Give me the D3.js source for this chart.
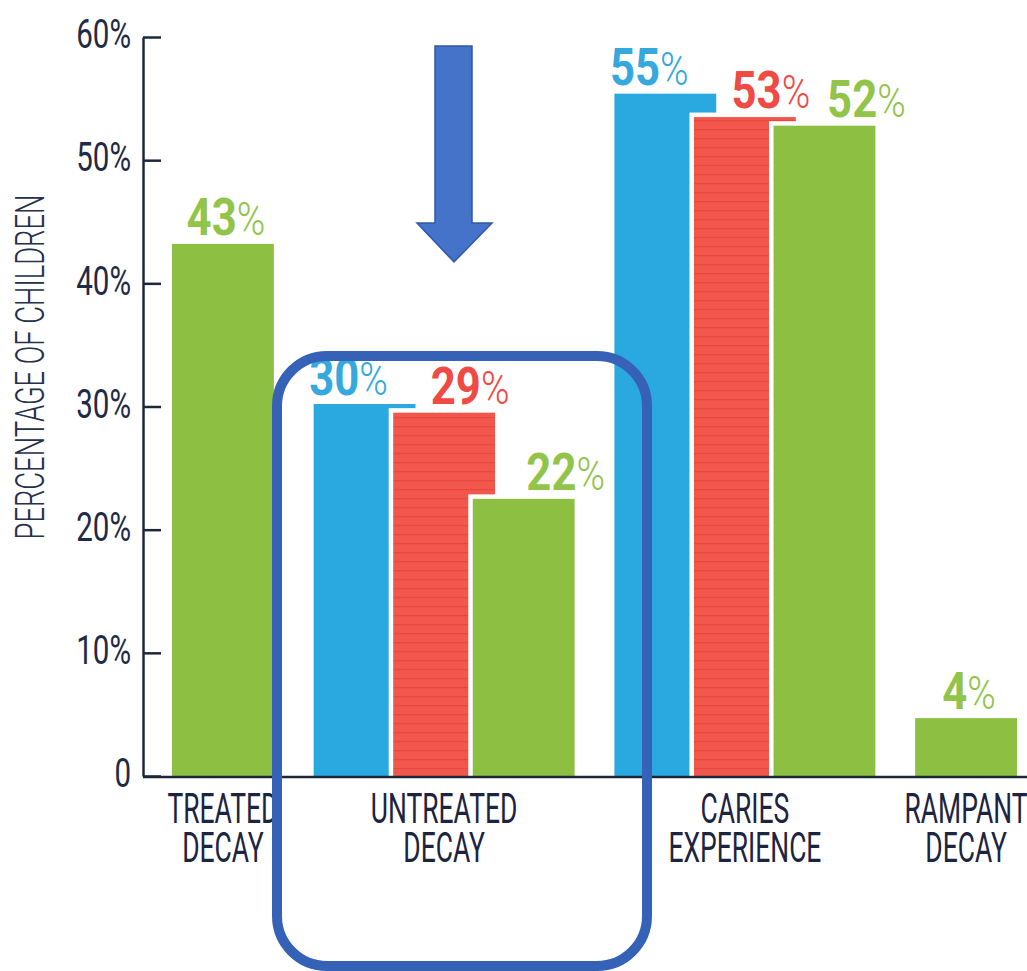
<!DOCTYPE html>
<html>
<head>
<meta charset="utf-8">
<script src="https://cdn.jsdelivr.net/npm/d3@7"></script>
<style>
  html, body { margin: 0; padding: 0; background: #fff; }
  svg { display: block; font-family: Roboto, "Open Sans", sans-serif; }
</style>
</head>
<body>
<div id="chart"></div>
<script>
// values
const categories = [['TREATED', 'DECAY'], ['UNTREATED', 'DECAY'], ['CARIES', 'EXPERIENCE'], ['RAMPANT', 'DECAY']];
const blueValues = [null, 30.2, 55.4, null];
const redValues = [null, 29.5, 53.5, null];
const greenValues = [43.2, 22.5, 52.8, 4.7];
const blueLabels = [null, '30', '55', null];
const redLabels = [null, '29', '53', null];
const greenLabels = ['43', '22', '52', '4'];
const yTicks = [0, 10, 20, 30, 40, 50, 60];
const yTitle = 'PERCENTAGE OF CHILDREN';

const series = [
  { key: 'blue', values: blueValues, labels: blueLabels, fill: '#2aa8e0', text: '#35a9de', shift: -16 },
  { key: 'red', values: redValues, labels: redLabels, fill: 'url(#redStreak)', text: '#ef4a44', shift: 26 },
  { key: 'green', values: greenValues, labels: greenLabels, fill: '#8cbf42', text: '#93c44a', shift: 42 }
];

const width = 1027, height = 971;
const svg = d3.select('#chart').append('svg')
  .attr('width', width)
  .attr('height', height);

// streaky red fill like the printed original
const pat = svg.append('defs').append('pattern')
  .attr('id', 'redStreak')
  .attr('patternUnits', 'userSpaceOnUse')
  .attr('width', 12).attr('height', 9);
pat.append('rect').attr('width', 12).attr('height', 9).attr('fill', '#f2574b');
pat.append('rect').attr('y', 3).attr('width', 12).attr('height', 1.3).attr('fill', '#e23a37').attr('opacity', 0.55);

// lay bars out in slots, with a gap between groups
const gapUnits = 0.78, barUnits = 1.28;
const bars = [], groups = [];
let u = 0;
categories.forEach((cat, i) => {
  const present = series.filter(s => s.values[i] != null);
  const start = u;
  present.forEach(s => {
    bars.push({ i, s, value: s.values[i], label: s.labels[i], u, single: present.length === 1 });
    u += 1;
  });
  const end = u - 1 + barUnits;
  groups.push({ lines: cat, center: (start + end) / 2, end });
  u += gapUnits;
});
const lastEnd = groups[groups.length - 1].end;

const x = d3.scaleLinear().domain([0, lastEnd]).range([172, 1017]);
const y = d3.scaleLinear().domain([0, 60]).range([776, 37]);
const bw = x(barUnits) - x(0);

// bars (white halo so each overlapping bar is cut out from the one behind)
svg.append('g').selectAll('rect')
  .data(bars)
  .enter().append('rect')
  .attr('x', d => x(d.u))
  .attr('y', d => y(d.value))
  .attr('width', bw)
  .attr('height', d => y(0) - y(d.value))
  .attr('fill', d => d.s.fill)
  .attr('stroke', '#fff')
  .attr('stroke-width', 9)
  .attr('paint-order', 'stroke');

// value labels
const vl = svg.append('g').selectAll('g')
  .data(bars)
  .enter().append('g')
  .attr('transform', d => `translate(${x(d.u) + bw / 2 + (d.single ? 3 : d.s.shift)},${y(d.value) - 9})`);
const vt = vl.append('text')
  .attr('text-anchor', 'middle')
  .attr('transform', 'scale(0.84,1)')
  .attr('fill', d => d.s.text);
vt.append('tspan')
  .attr('font-size', 52)
  .attr('font-weight', 700)
  .text(d => d.label);
vt.append('tspan')
  .attr('font-size', 46)
  .attr('font-weight', 300)
  .text('%');

// y axis, ticks pointing into the plot
const yAxis = svg.append('g')
  .attr('transform', 'translate(143,0)')
  .call(d3.axisLeft(y).tickValues(yTicks).tickSize(-18).tickSizeOuter(0).tickPadding(12)
    .tickFormat(d => d === 0 ? '0' : d + '%'));
yAxis.select('.domain').attr('stroke', '#1c2838').attr('stroke-width', 2.5);
yAxis.selectAll('.tick line').attr('stroke', '#1c2838').attr('stroke-width', 2.5);
yAxis.selectAll('.tick text')
  .attr('x', null)
  .attr('dy', null)
  .attr('dominant-baseline', 'central')
  .attr('transform', 'translate(-12,-3) scale(0.72,1)')
  .attr('font-size', 41)
  .attr('font-family', 'Roboto, sans-serif')
  .attr('fill', '#1f2a44');

// baseline runs to the right edge
svg.append('line')
  .attr('x1', 143).attr('x2', width)
  .attr('y1', y(0) + 1).attr('y2', y(0) + 1)
  .attr('stroke', '#1c2838')
  .attr('stroke-width', 2.5);

// y title, squeezed to its printed length
const yt = svg.append('text')
  .attr('text-anchor', 'middle')
  .attr('dominant-baseline', 'central')
  .attr('font-size', 40)
  .attr('font-weight', 300)
  .attr('fill', '#25304c')
  .text(yTitle);
const ytLen = yt.node().getComputedTextLength();
yt.attr('transform', `translate(30,367) rotate(-90) scale(${345 / ytLen},1)`);

// category labels, one text per line
const cl = svg.append('g').selectAll('g')
  .data(groups)
  .enter().append('g')
  .attr('transform', d => `translate(${x(d.center)},823)`);
cl.selectAll('text')
  .data(d => d.lines)
  .enter().append('text')
  .attr('text-anchor', 'middle')
  .attr('transform', (d, i) => `translate(0,${i * 39}) scale(0.63,1)`)
  .attr('font-size', 42)
  .attr('fill', '#1c2440')
  .text(d => d);

// annotation: arrow and rounded box around untreated decay
svg.append('path')
  .attr('d', 'M435,46 L472,46 L472,223 L492,223 L454,262 L417,223 L435,223 Z')
  .attr('fill', '#4573c9')
  .attr('stroke', '#2f58a8')
  .attr('stroke-width', 1.5);

svg.append('rect')
  .attr('x', 277).attr('y', 356)
  .attr('width', 370).attr('height', 610)
  .attr('rx', 50)
  .attr('fill', 'none')
  .attr('stroke', '#3561b6')
  .attr('stroke-width', 10);
</script>
</body>
</html>
